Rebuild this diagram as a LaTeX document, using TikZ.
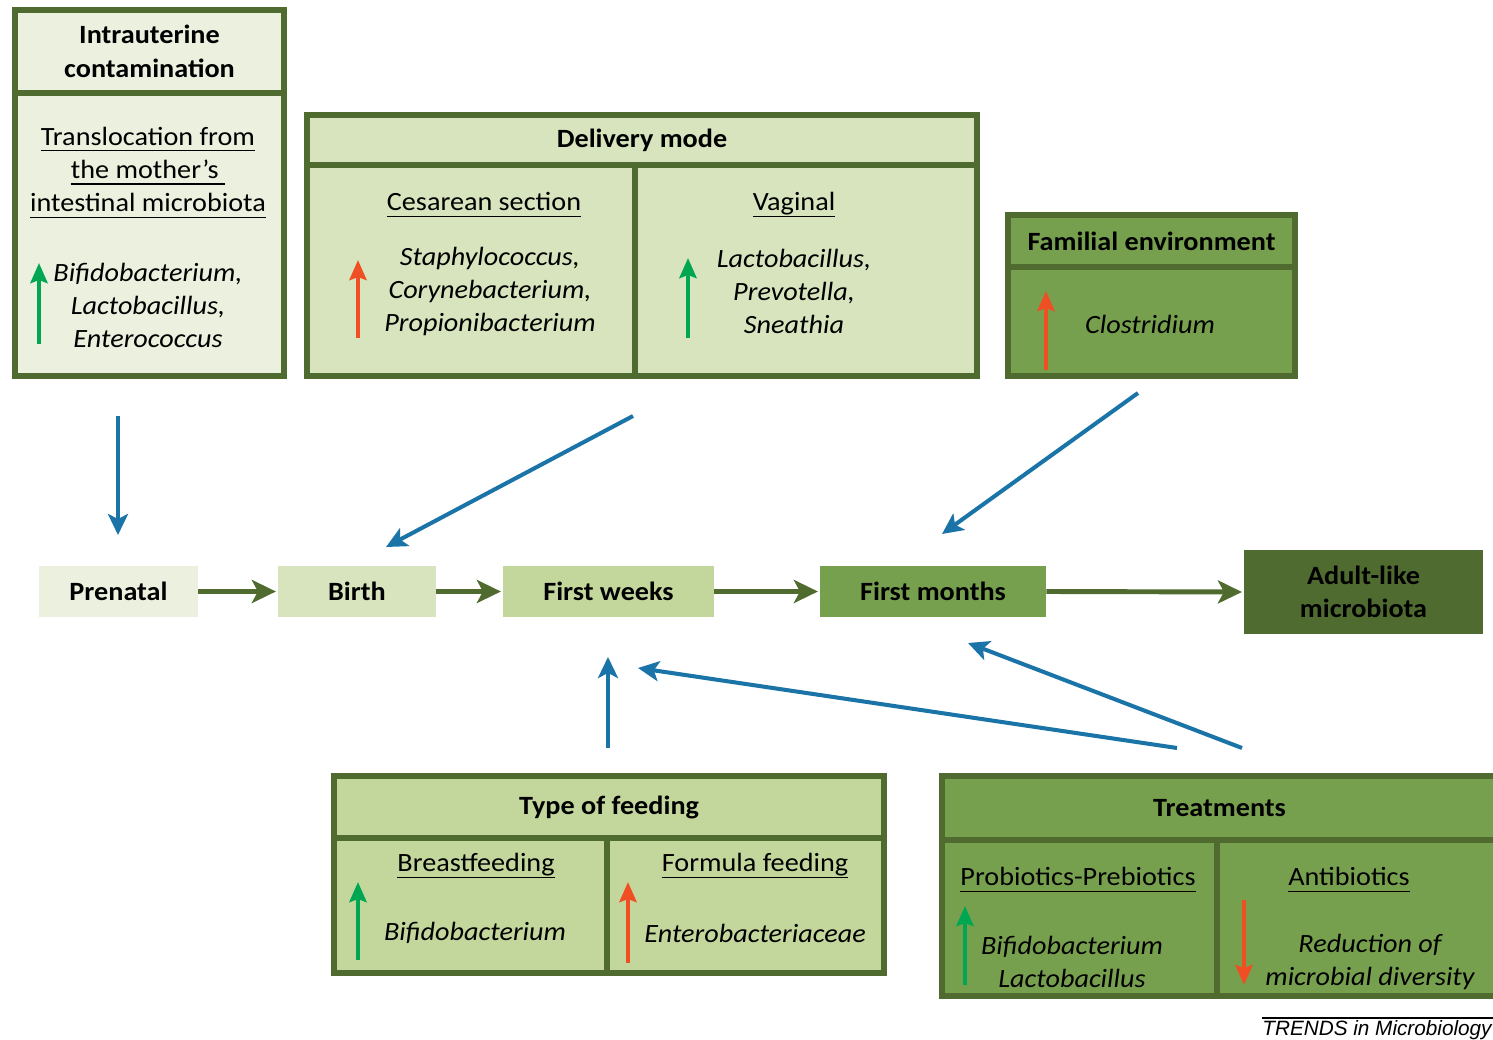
\documentclass[tikz,border=0pt]{standalone}
\usepackage{fontspec}
\setmainfont[FakeStretch=1.07]{Carlito}
\newfontfamily\trendsfont{Liberation Sans}
\usetikzlibrary{arrows.meta}
\newcommand{\figfont}{\fontsize{15}{19}\selectfont}
\newcommand{\undl}[1]{\setbox0\hbox{#1}\rlap{\rule[-3.6pt]{\wd0}{0.8pt}}\box0}
\definecolor{palegrn}{HTML}{EBF1DE}
\definecolor{lightgrn}{HTML}{D7E4BD}
\definecolor{midgrn}{HTML}{C3D69B}
\definecolor{darkgrn}{HTML}{77A04E}
\definecolor{deepgrn}{HTML}{4F6B30}
\definecolor{frame}{HTML}{4F6B2F}
\definecolor{infblue}{HTML}{1B74A8}
\definecolor{incgrn}{HTML}{00A651}
\definecolor{incred}{HTML}{F04E23}

\begin{document}
\begin{tikzpicture}[x=0.02cm,y=-0.02cm,
  panel/.style={draw=frame,line width=3.2pt,inner sep=0pt,align=center},
  hdr/.style={panel,font=\figfont\bfseries},
  stage/.style={inner sep=0pt,align=center,font=\figfont\bfseries},
  ttl/.style={align=center,inner sep=1pt,font=\figfont},
  taxa/.style={align=center,inner sep=1pt,font=\figfont\itshape},
  flow/.style={-{Stealth[length=0.48cm,width=0.46cm,inset=0.12cm]},line width=2.8pt,draw=frame,shorten >=1pt},
  infl/.style={-{Stealth[length=0.42cm,width=0.4cm,inset=0.1cm]},line width=2.3pt,draw=infblue},
  updown/.style={-{Stealth[length=0.4cm,width=0.34cm,inset=0.06cm]},line width=2.8pt}]
\useasboundingbox (0,0) rectangle (1493,1040);

% ---- intrauterine contamination
\node[hdr,fill=palegrn,minimum width=5.38cm,minimum height=1.66cm] (intra-h) at (149.5,51.5) {Intrauterine\\contamination};
\node[panel,fill=palegrn,minimum width=5.38cm,minimum height=5.66cm] (intra-b) at (149.5,234.5) {};
\node[ttl] (transl) at (148,172.5) {\undl{Translocation from}\\\undl{the mother’s\ }\\\undl{intestinal microbiota}};
\node[taxa] (intra-t) at (148,305.5) {Bifidobacterium,\\Lactobacillus,\\Enterococcus};
\draw[updown,incgrn] (39,344)--(39,263);

% ---- delivery mode
\node[hdr,fill=lightgrn,minimum width=13.4cm,minimum height=1.0cm] (deliv-h) at (642,140) {Delivery mode};
\node[panel,fill=lightgrn,minimum width=6.56cm,minimum height=4.22cm] (cesar-b) at (471,270.5) {};
\node[panel,fill=lightgrn,minimum width=6.84cm,minimum height=4.22cm] (vagin-b) at (806,270.5) {};
\node[ttl] (cesar) at (484,205) {\undl{Cesarean section}};
\node[taxa] (cesar-t) at (490,291.5) {Staphylococcus,\\Corynebacterium,\\Propionibacterium};
\draw[updown,incred] (358,338)--(358,260);
\node[ttl] (vagin) at (794,205) {\undl{Vaginal}};
\node[taxa] (vagin-t) at (794,291.5) {Lactobacillus,\\Prevotella,\\Sneathia};
\draw[updown,incgrn] (688,338)--(688,258);

% ---- familial environment
\node[hdr,fill=darkgrn,minimum width=5.74cm,minimum height=1.04cm] (famil-h) at (1151.5,241) {Familial environment};
\node[panel,fill=darkgrn,minimum width=5.74cm,minimum height=2.18cm] (famil-b) at (1151.5,321.5) {};
\node[taxa] (famil-t) at (1150,324) {Clostridium};
\draw[updown,incred] (1046,370)--(1046,291);

% ---- timeline
\node[stage,fill=palegrn,minimum width=3.18cm,minimum height=1.02cm] (prenatal) at (118.5,591.5) {Prenatal};
\node[stage,fill=lightgrn,minimum width=3.16cm,minimum height=1.02cm] (birth) at (357,591.5) {Birth};
\node[stage,fill=midgrn,minimum width=4.22cm,minimum height=1.02cm] (fweeks) at (608.5,591.5) {First weeks};
\node[stage,fill=darkgrn,minimum width=4.52cm,minimum height=1.02cm] (fmonths) at (933,591.5) {First months};
\node[stage,fill=deepgrn,minimum width=4.78cm,minimum height=1.68cm] (adult) at (1363.5,592) {Adult-like\\microbiota};
\draw[flow] (prenatal.east)--(birth.west);
\draw[flow] (birth.east)--(fweeks.west);
\draw[flow] (fweeks.east)--(fmonths.west);
\draw[flow] (fmonths.east)--(adult.west);

% ---- influences
\coordinate (intra-out) at (118,416);   \coordinate (intra-in) at (118,535);
\coordinate (deliv-out) at (633,416);   \coordinate (deliv-in) at (386,547);
\coordinate (famil-out) at (1138,393);  \coordinate (famil-in) at (942,534);
\coordinate (feed-out) at (608,748);    \coordinate (feed-in) at (608,657);
\coordinate (treat-out1) at (1177,748); \coordinate (treat-in1) at (638,668);
\coordinate (treat-out2) at (1242,748); \coordinate (treat-in2) at (968,643);
\draw[infl] (intra-out)--(intra-in);
\draw[infl] (deliv-out)--(deliv-in);
\draw[infl] (famil-out)--(famil-in);
\draw[infl] (feed-out)--(feed-in);
\draw[infl] (treat-out1)--(treat-in1);
\draw[infl] (treat-out2)--(treat-in2);

% ---- type of feeding
\node[hdr,fill=midgrn,minimum width=11.0cm,minimum height=1.24cm] (feed-h) at (609,807) {Type of feeding};
\node[panel,fill=midgrn,minimum width=5.46cm,minimum height=2.7cm] (breast-b) at (470.5,905.5) {};
\node[panel,fill=midgrn,minimum width=5.54cm,minimum height=2.7cm] (formula-b) at (745.5,905.5) {};
\node[ttl] (breast) at (476,866) {\undl{Breastfeeding}};
\node[taxa] (breast-t) at (475,933) {Bifidobacterium};
\draw[updown,incgrn] (358,960)--(358,882);
\node[ttl] (formula) at (755,866) {\undl{Formula feeding}};
\node[taxa] (formula-t) at (755,933) {Enterobacteriaceae};
\draw[updown,incred] (628,963)--(628,882);

% ---- treatments
\node[hdr,fill=darkgrn,minimum width=11.1cm,minimum height=1.28cm] (treat-h) at (1219.5,808) {Treatments};
\node[panel,fill=darkgrn,minimum width=5.5cm,minimum height=3.12cm] (probio-b) at (1079.5,918) {};
\node[panel,fill=darkgrn,minimum width=5.6cm,minimum height=3.12cm] (antib-b) at (1357,918) {};
\node[ttl] (probio) at (1078,880) {\undl{Probiotics-Prebiotics}};
\node[taxa] (probio-t) at (1072,962) {Bifidobacterium\\Lactobacillus};
\draw[updown,incgrn] (965,985)--(965,906);
\node[ttl] (antib) at (1349,880) {\undl{Antibiotics}};
\node[taxa] (antib-t) at (1370,962) {Reduction of\\microbial diversity};
\draw[updown,incred] (1244,900)--(1244,985);

% ---- credit
\draw[line width=0.7pt] (1262,1018)--(1500,1018);
\node[anchor=west,inner sep=0pt,font=\trendsfont\fontsize{11.8}{14}\selectfont\itshape] (credit) at (1262,1030) {TRENDS in Microbiology};
\end{tikzpicture}
\end{document}
